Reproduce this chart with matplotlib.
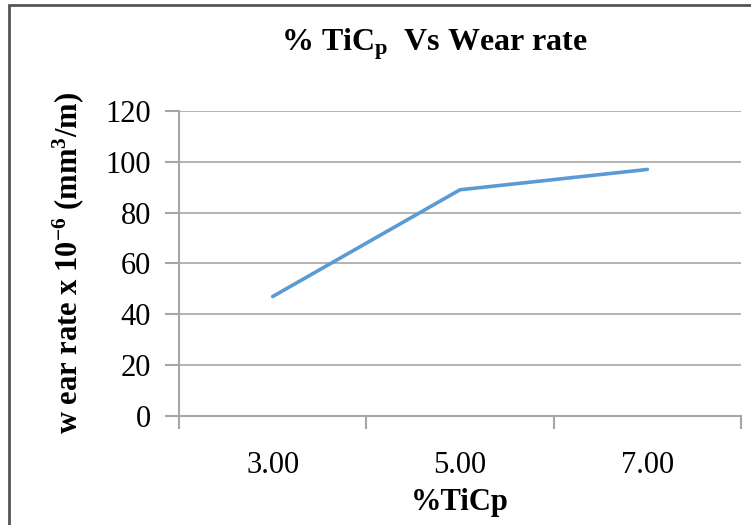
import matplotlib
matplotlib.use("Agg")
import matplotlib.pyplot as plt
from matplotlib.patches import Rectangle

# data
ticp_labels = ["3.00", "5.00", "7.00"]
wear_rate = [47, 89, 97]
y_ticks = [0, 20, 40, 60, 80, 100, 120]

plt.rcParams["font.family"] = "Liberation Serif"
plt.rcParams["mathtext.default"] = "regular"

GRID = "#A6A6A6"
LINE = "#5B9BD5"

fig = plt.figure(figsize=(7.51, 5.25), dpi=100)
ax = fig.add_axes([0.2383, 0.2076, 0.7484, 0.581])

x = list(range(len(ticp_labels)))
ax.plot(x, wear_rate, color=LINE, linewidth=2.6, solid_capstyle="round")

ax.set_xlim(-0.5, len(ticp_labels) - 0.5)
ax.set_ylim(0, 120)
ax.set_yticks(y_ticks)
ax.set_yticklabels([str(v) for v in y_ticks], fontsize=22)
ax.yaxis.grid(True, color=GRID, linewidth=1.2)
ax.set_axisbelow(True)

# category axis: ticks sit on the boundaries, labels in the middle
ax.set_xticks([i - 0.5 for i in range(len(ticp_labels) + 1)])
ax.set_xticklabels([])
ax.set_xticks(x, minor=True)
ax.set_xticklabels(ticp_labels, minor=True, fontsize=22)
ax.tick_params(axis="x", which="minor", length=0, pad=25)
ax.tick_params(axis="x", which="major", length=9, width=1.5, color=GRID)
ax.tick_params(axis="y", length=10, width=1.5, color=GRID, pad=10)

for side in ("top", "right"):
    ax.spines[side].set_visible(False)
for side in ("left", "bottom"):
    ax.spines[side].set_color(GRID)
    ax.spines[side].set_linewidth(1.5)

ax.set_xlabel("%TiCp", fontsize=22, fontweight="bold", labelpad=6)
ax.set_ylabel("w ear rate x 10$^{-6}$ (mm$^{3}$/m)", fontsize=22,
              fontweight="bold", labelpad=14)
fig.text(0.578, 0.915, "% TiC$_{p}$  Vs Wear rate", ha="center", va="center",
         fontsize=23, fontweight="bold")

# chart frame (only the left and top edges fall inside the crop)
fig.patches.append(Rectangle((0.0115, -0.1), 1.2, 1.09, transform=fig.transFigure,
                             fill=False, edgecolor="#555555", linewidth=2))

fig.savefig("out.png", dpi=100)
